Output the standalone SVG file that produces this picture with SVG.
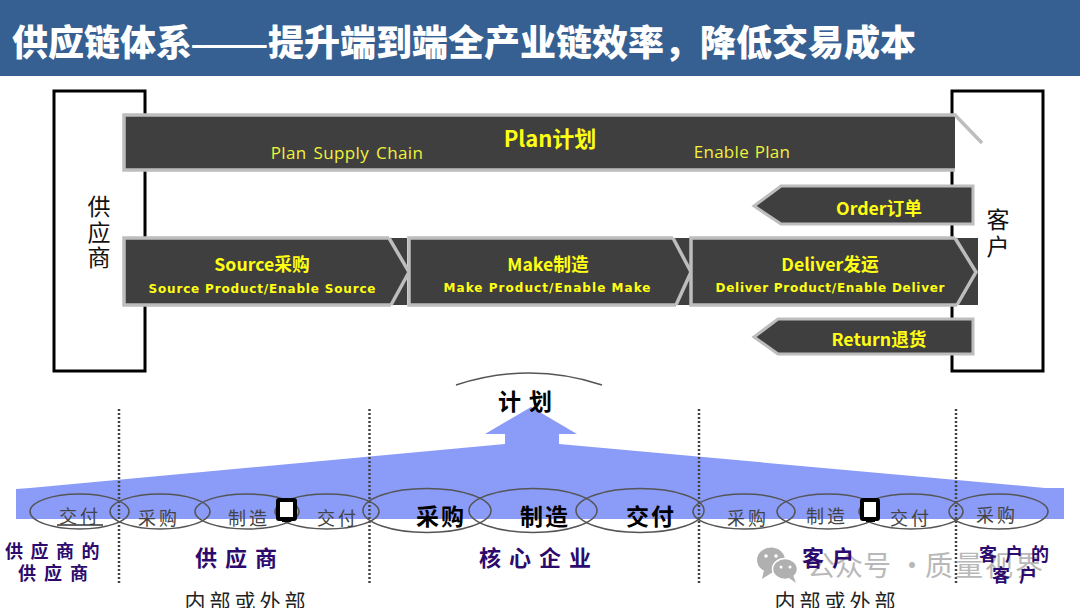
<svg xmlns="http://www.w3.org/2000/svg" width="1080" height="608" viewBox="0 0 1080 608">
<style>
text{font-family:"Noto Sans CJK SC","Liberation Sans",sans-serif;text-anchor:middle}
.bar{fill:#3f3f3f;stroke:#bdbdbd;stroke-width:3}
.dark{fill:#3f3f3f}
.chev{fill:none;stroke:#bdbdbd;stroke-width:3.500}
.box{fill:#fff;stroke:#000;stroke-width:3}
.y1{fill:#ffff14;font-weight:700;font-size:17.700px}
.y2{fill:#ffff14;font-family:"DejaVu Sans",sans-serif;font-weight:700;font-size:12px}
.y3{fill:#f2f23a;font-family:"Open Sans",sans-serif;font-size:17px}
.side{fill:#111;font-size:23px}
.oval{fill:none;stroke:#555;stroke-width:1.5}
.sm{fill:#444;font-size:18px;letter-spacing:3px}
.lg{fill:#000;font-size:23px;font-weight:700;letter-spacing:2px}
.pur{fill:#2c0a6e;font-weight:700;font-size:18px;letter-spacing:8px}
.pur2{fill:#2c0a6e;font-weight:700;font-size:22px;letter-spacing:8px}
.blk{fill:#222;font-size:21px;letter-spacing:4px}
.dot{stroke:#444;stroke-width:2.500;stroke-dasharray:2 2;fill:none}
.ico{fill:#fff;stroke:#000;stroke-width:4}
.wm{fill:#b8b8b8;font-size:28px;text-anchor:start}
</style>
<g id="title">
<rect x="0" y="0" width="1080" height="76" fill="#365f92"/>
<text x="12" y="56" style="font-size:36px;font-weight:900;fill:#fff;text-anchor:start">供应链体系<tspan x="190" y="60" style="font-size:47px;font-weight:400">——</tspan><tspan x="268" y="56">提升端到端全产业链效率，降低交易成本</tspan></text>
</g>
<g id="supplier">
<rect class="box" x="54" y="91" width="91" height="280"/>
<text class="side" x="99" y="215">供</text>
<text class="side" x="99" y="241">应</text>
<text class="side" x="99" y="266">商</text>
</g>
<g id="customer">
<rect class="box" x="952" y="91" width="91" height="280"/>
<text class="side" x="998" y="228">客</text>
<text class="side" x="998" y="255">户</text>
</g>
<g id="plan">
<path class="dark" d="M124 115H955V170H124Z"/>
<path class="chev" d="M955 170H124V115H955L982 143"/>
<text x="550" y="147" style="fill:#ffff14;font-weight:700;font-size:22px">Plan计划</text>
<text class="y3" x="347" y="159" style="letter-spacing:.4px;word-spacing:2px">Plan Supply Chain</text>
<text class="y3" x="742" y="158" style="letter-spacing:.3px;word-spacing:1px">Enable Plan</text>
</g>
<g id="source">
<rect class="dark" x="124" y="238" width="283" height="67"/>
<path class="chev" d="M389 238H124V305H391M389 238L409 272L391 305"/>
<text class="y1" x="262" y="271">Source采购</text>
<text class="y2" x="262" y="293" textLength="227">Source Product/Enable Source</text>
</g>
<g id="make">
<rect class="dark" x="409" y="238" width="281" height="67"/>
<path class="chev" d="M673 238H409V305H676M673 238L691 272L676 305"/>
<text class="y1" x="548" y="271">Make制造</text>
<text class="y2" x="547" y="292" textLength="207">Make Product/Enable Make</text>
</g>
<g id="deliver">
<rect class="dark" x="691" y="238" width="287" height="67"/>
<path class="chev" d="M955 238H691V305H957M955 238L976 272L957 305"/>
<text class="y1" x="830" y="271">Deliver发运</text>
<text class="y2" x="830" y="292" textLength="229">Deliver Product/Enable Deliver</text>
</g>
<g id="order">
<path class="bar" d="M754 206L781 186H973V224H781Z"/>
<text class="y1" x="879" y="215">Order订单</text>
</g>
<g id="return">
<path class="bar" d="M754 337L778 319H973V354H778Z"/>
<text class="y1" x="879" y="346">Return退货</text>
</g>
<g id="flow">
<path fill="#8a9bf8" d="M16 489L30 488L505 444V434H485L531 407L577 434H559V444L1045 488H1064V519H16Z"/>
<path d="M456 385Q530 361 602 385" fill="none" stroke="#555" stroke-width="1.5"/>
<text x="529" y="410" style="font-size:23px;font-weight:700;fill:#000;letter-spacing:8px">计划</text>
</g>
<g id="connectors">
<line class="dot" x1="119" y1="409" x2="119" y2="585"/>
<line class="dot" x1="369.500" y1="409" x2="369.500" y2="585"/>
<line class="dot" x1="699" y1="409" x2="699" y2="585"/>
<line class="dot" x1="956" y1="409" x2="956" y2="585"/>
</g>
<g id="watermark">
<text class="wm" x="807" y="576">公众号</text>
<text class="wm" x="898" y="576">·</text>
<text class="wm" x="925" y="576" style="letter-spacing:2px">质量视界</text>
<ellipse cx="771" cy="560" rx="14" ry="12.500" fill="#b0b0b0"/>
<path d="M764 570L762 579L773 572Z" fill="#b0b0b0"/>
<ellipse cx="785" cy="569" rx="12.500" ry="10.500" fill="#b0b0b0" stroke="#fff" stroke-width="1.500"/>
<path d="M789 578L796 583L793 575Z" fill="#b0b0b0"/>
<circle cx="766" cy="556" r="1.800" fill="#fff"/>
<circle cx="776" cy="556" r="1.800" fill="#fff"/>
<circle cx="781" cy="567" r="1.500" fill="#fff"/>
<circle cx="790" cy="567" r="1.500" fill="#fff"/>
</g>
<g id="chain-supplier-tier2">
<ellipse class="oval" cx="79.500" cy="511.500" rx="49.500" ry="17.500"/>
<text class="sm" x="80" y="523">交付</text>
<line x1="57" y1="525" x2="103" y2="525" stroke="#333" stroke-width="1.500"/>
</g>
<g id="chain-supplier">
<ellipse class="oval" cx="160" cy="511.500" rx="50" ry="17.500"/>
<ellipse class="oval" cx="247" cy="511.500" rx="52" ry="17.500"/>
<ellipse class="oval" cx="327" cy="511.500" rx="52" ry="17.500"/>
<text class="sm" x="159" y="525">采购</text>
<text class="sm" x="249" y="525">制造</text>
<text class="sm" x="338" y="525">交付</text>
<rect class="ico" x="278" y="500" width="17" height="19" rx="1"/>
<rect x="282" y="519" width="9" height="3" fill="#000"/>
</g>
<g id="chain-core">
<ellipse class="oval" cx="427" cy="510.500" rx="64" ry="22"/>
<ellipse class="oval" cx="533" cy="510.500" rx="64" ry="22"/>
<ellipse class="oval" cx="640" cy="510.500" rx="64" ry="22"/>
<text class="lg" x="441" y="525">采购</text>
<text class="lg" x="545" y="525">制造</text>
<text class="lg" x="651" y="525">交付</text>
</g>
<g id="chain-customer">
<ellipse class="oval" cx="744" cy="511.500" rx="51" ry="17.500"/>
<ellipse class="oval" cx="828" cy="511.500" rx="51" ry="17.500"/>
<ellipse class="oval" cx="911" cy="511.500" rx="52" ry="17.500"/>
<text class="sm" x="748" y="525">采购</text>
<text class="sm" x="827" y="523">制造</text>
<text class="sm" x="911" y="525">交付</text>
<rect class="ico" x="862" y="500" width="16" height="19" rx="1"/>
<rect x="866" y="519" width="9" height="3" fill="#000"/>
</g>
<g id="chain-customer-tier2">
<ellipse class="oval" cx="998.500" cy="511.500" rx="49.500" ry="17.500"/>
<text class="sm" x="997" y="522">采购</text>
</g>
<g id="labels">
<text class="pur" x="56" y="558" style="letter-spacing:7.500px">供应商的</text>
<text class="pur" x="57" y="580">供应商</text>
<text class="pur2" x="240" y="566">供应商</text>
<text class="pur2" x="539" y="566">核心企业</text>
<text class="pur2" x="832" y="566">客户</text>
<text class="pur" x="1018" y="561">客户的</text>
<text class="pur" x="1019" y="582" style="letter-spacing:9px">客户</text>
<text class="blk" x="247" y="609">内部或外部</text>
<text class="blk" x="837" y="609">内部或外部</text>
</g>
</svg>
